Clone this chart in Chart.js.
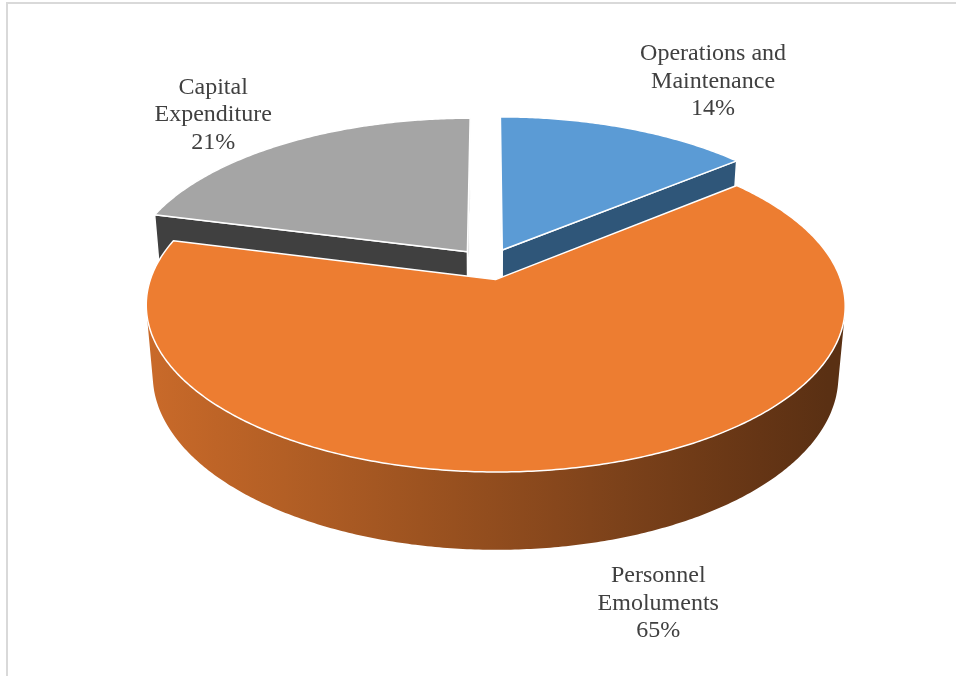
<!DOCTYPE html>
<html>
<head>
<meta charset="utf-8">
<script src="https://cdn.jsdelivr.net/npm/chart.js@4.4.0/dist/chart.umd.min.js"></script>
<style>
  html, body { margin: 0; padding: 0; background: #ffffff; }
  #wrap { position: relative; width: 956px; height: 676px; }
</style>
</head>
<body>
<div id="wrap"><canvas id="budget"></canvas></div>
<script>
// Budget split, in percent
const categories = [['Operations and', 'Maintenance'], ['Personnel', 'Emoluments'], ['Capital', 'Expenditure']];
const shares = [14, 65, 21];
const topColors = ['#5b9bd5', '#ed7d31', '#a5a5a5'];
const sideColors = ['#2f5679', '#8a4a1e', '#404040'];

function rgb(hex) {
  const n = parseInt(hex.slice(1), 16);
  return [(n >> 16) & 255, (n >> 8) & 255, n & 255];
}
function shade(hex, f) {
  return 'rgb(' + rgb(hex).map(v => Math.min(255, Math.round(v * f))).join(',') + ')';
}

// project the pie's arcs onto a tilted disc seen from a camera in front of it
function buildSolid(chart, opts) {
  const meta = chart.getDatasetMeta(0);
  const cx = meta.data[0].x, cy = meta.data[0].y;
  const t = opts.tilt * Math.PI / 180, s = Math.sin(t), c = Math.cos(t);
  const D = opts.distance, H = opts.depth, R = opts.radius;
  const cam = [0, D * s, D * c];
  const proj = (x, y, z) => {
    const d = D - y * s - z * c;
    return [cx + D * x / d, cy - D * (y * c - z * s) / d];
  };
  const dist = (x, y, z) => Math.hypot(x - cam[0], y - cam[1], z - cam[2]);
  const slices = meta.data.map((arc, i) => {
    const a0 = arc.startAngle, a1 = arc.endAngle, mid = (a0 + a1) / 2;
    const e = arc.options.offset || 0;
    const ox = e * Math.cos(mid), oz = e * Math.sin(mid);
    const steps = Math.max(2, Math.ceil((a1 - a0) / 0.01));
    const rim = [];
    for (let k = 0; k <= steps; k++) {
      const a = a0 + (a1 - a0) * k / steps;
      rim.push({ a, x: ox + R * Math.cos(a), z: oz + R * Math.sin(a) });
    }
    return { arc, i, a0, a1, mid, ox, oz, rim };
  });
  return { cx, cy, H, R, cam, proj, dist, slices };
}

function fillPoly(ctx, pts, fill, stroke, lw) {
  ctx.beginPath();
  pts.forEach((p, k) => k ? ctx.lineTo(p[0], p[1]) : ctx.moveTo(p[0], p[1]));
  ctx.closePath();
  ctx.fillStyle = fill;
  ctx.fill();
  if (stroke) {
    ctx.strokeStyle = stroke;
    ctx.lineWidth = lw;
    ctx.lineJoin = 'round';
    ctx.stroke();
  }
}

const pie3d = {
  id: 'pie3d',
  beforeDraw(chart) {
    const ctx = chart.ctx;
    ctx.save();
    ctx.strokeStyle = '#d9d9d9';
    ctx.lineWidth = 2;
    ctx.strokeRect(7, 3, 2000, 2000);
    ctx.restore();
  },
  beforeDatasetsDraw(chart, args, opts) {
    const ctx = chart.ctx;
    const g = buildSolid(chart, opts);
    const faces = [];

    g.slices.forEach(sl => {
      const base = topColors[sl.i];
      const border = sl.arc.options.borderColor;
      const lw = sl.arc.options.borderWidth;

      // outer wall: keep only the stretches that face the camera
      let run = [];
      const flush = () => {
        if (run.length > 1) {
          const pts = run.map(p => g.proj(p.x, 0, p.z))
            .concat(run.slice().reverse().map(p => g.proj(p.x, -g.H, p.z)));
          const grad = ctx.createLinearGradient(g.cx - g.R, 0, g.cx + g.R, 0);
          for (let k = 0; k <= 10; k++) {
            const nx = k / 5 - 1;
            grad.addColorStop(k / 10, shade(base, 0.615 - 0.235 * nx));
          }
          const m = run[Math.floor(run.length / 2)];
          faces.push({ pts, fill: grad, stroke: null, lw, key: g.dist(m.x, -g.H / 2, m.z) });
        }
        run = [];
      };
      sl.rim.forEach(p => {
        const facing = Math.cos(p.a) * (g.cam[0] - p.x) + Math.sin(p.a) * (g.cam[2] - p.z) > 0;
        if (facing) run.push(p); else flush();
      });
      flush();

      // the two radial cut faces
      [[sl.a0, sl.rim[0], 1], [sl.a1, sl.rim[sl.rim.length - 1], -1]].forEach(([a, p, dir]) => {
        const nx = dir * Math.sin(a), nz = -dir * Math.cos(a);
        if (nx * (g.cam[0] - sl.ox) + nz * (g.cam[2] - sl.oz) <= 0) return;
        const pts = [g.proj(sl.ox, 0, sl.oz), g.proj(p.x, 0, p.z),
                     g.proj(p.x, -g.H, p.z), g.proj(sl.ox, -g.H, sl.oz)];
        faces.push({ pts, fill: sideColors[sl.i], stroke: border, lw,
                     key: g.dist((sl.ox + p.x) / 2, -g.H / 2, (sl.oz + p.z) / 2) });
      });
    });

    ctx.save();
    faces.sort((a, b) => b.key - a.key).forEach(f => fillPoly(ctx, f.pts, f.fill, f.stroke, f.lw));

    // top faces last
    g.slices.forEach(sl => {
      const pts = [g.proj(sl.ox, 0, sl.oz)].concat(sl.rim.map(p => g.proj(p.x, 0, p.z)));
      fillPoly(ctx, pts, topColors[sl.i], sl.arc.options.borderColor, sl.arc.options.borderWidth);
    });
    ctx.restore();
    return false;
  },
  afterDraw(chart, args, opts) {
    const ctx = chart.ctx;
    const g = buildSolid(chart, opts);
    const gap = opts.labelGap;
    const values = chart.data.datasets[0].data;
    const total = values.reduce((a, b) => a + b, 0);
    const lineH = 27.5;
    ctx.save();
    ctx.font = '24px "Liberation Serif", "Times New Roman", serif';
    ctx.fillStyle = '#404040';
    ctx.textAlign = 'center';
    ctx.textBaseline = 'middle';
    g.slices.forEach(sl => {
      const lines = [].concat(chart.data.labels[sl.i], Math.round(values[sl.i] / total * 100) + '%');
      const front = Math.sin(sl.mid) > 0;
      const rx = sl.ox + g.R * Math.cos(sl.mid), rz = sl.oz + g.R * Math.sin(sl.mid);
      const anchor = g.proj(rx, front ? -g.H : 0, rz);
      const ux = anchor[0] - g.cx, uy = anchor[1] - g.cy;
      const halfW = Math.max(...lines.map(l => ctx.measureText(l).width)) / 2;
      const halfH = lines.length * lineH / 2;
      const x = anchor[0] + Math.sign(ux) * (halfW + gap.x);
      const y = anchor[1] + Math.sign(uy) * (halfH + (front ? gap.down : gap.up)) * Math.min(1, Math.abs(uy / ux));
      lines.forEach((l, k) => ctx.fillText(l, x, y + (k - (lines.length - 1) / 2) * lineH));
    });
    ctx.restore();
  }
};

new Chart(document.getElementById('budget'), {
  type: 'pie',
  data: {
    labels: categories,
    datasets: [{
      data: shares,
      backgroundColor: topColors,
      borderColor: '#ffffff',
      borderWidth: 1.5,
      offset: 34
    }]
  },
  options: {
    responsive: true,
    maintainAspectRatio: false,
    animation: false,
    events: [],
    layout: { padding: { left: 40, right: 20, top: 20, bottom: 168 } },
    plugins: {
      legend: { display: false },
      tooltip: { enabled: false },
      pie3d: {
        tilt: 27.6, distance: 1960, depth: 79, radius: 340,
        labelGap: { x: 14, up: 6, down: 18 }
      }
    }
  },
  plugins: [pie3d]
});
</script>
</body>
</html>
